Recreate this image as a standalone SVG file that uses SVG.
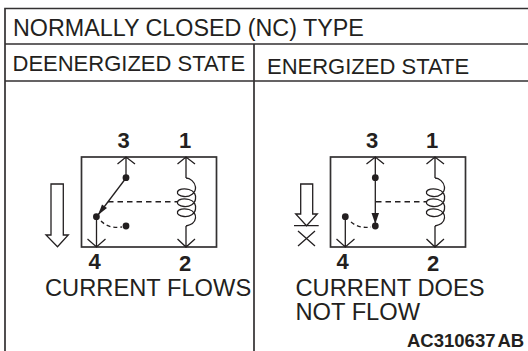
<svg xmlns="http://www.w3.org/2000/svg" width="528" height="351" viewBox="0 0 528 351">
<style>
text{font-family:"Liberation Sans",Arial,sans-serif;fill:#231f20}
.h{font-size:23.3px}
.s{font-size:22px}
.t{font-size:23.7px}
.n{font-size:22px;font-weight:bold}
.l{fill:none;stroke:#333132;stroke-width:1.7}
.f{fill:none;stroke:#231f20;stroke-width:1.3}
.d{fill:#231f20}
.dash{fill:none;stroke:#231f20;stroke-width:1.4;stroke-dasharray:5.500 4}
</style>
<defs>
<path id="coil" class="f" d="M186 178C190 178 195 182 195.500 187C196 193 190 197 184 196.500C179 196 177 194 177.500 192C178 189 184 188 189 189.500C194 191 196 195 195.500 199C195 204 190 207 184 206.500C179 206 177 204 177.500 202C178 199 184 198 189 199.500C194 201 196 205 195.500 209C195 214 190 217 184 216.500C179 216 177 214 177.500 212C178 209 184 208 189 209.500C194 211 196 215 195.500 218C195 222 191 225 186 226"/>
</defs>
<rect width="528" height="351" fill="#fff"/>
<g id="table">
<path class="l" d="M5 351V8.500H528M5 44H528M5 81H528M254 44V351"/>
<text class="h" x="13" y="35.500">NORMALLY CLOSED (NC) TYPE</text>
<text class="s" x="12.500" y="71">DEENERGIZED STATE</text>
<text class="s" x="267" y="73.500">ENERGIZED STATE</text>
</g>
<g id="deenergized">
<rect class="l" x="81.500" y="157" width="135" height="90"/>
<path class="f" d="M126 157V178M117.500 164L126 157L135 164M96.500 217V247M87.500 239L96.500 247L105.500 239M186 157V178M177.500 164L186 157L195 164M186 226V247M177.500 239L186 247L195 239"/>
<use href="#coil"/>
<circle class="d" cx="126" cy="177.700" r="3.400"/><circle class="d" cx="96.400" cy="216.700" r="3.400"/><circle class="d" cx="126" cy="226" r="3.400"/>
<path class="f" d="M126 178L96.500 217"/>
<path class="d" d="M102 204.500L107 208L98 215Z"/>
<path class="dash" d="M108 201.700H177"/>
<path class="f" stroke-dasharray="4 3" d="M101 221C107 227 114 228 122 227"/>
<path class="f" d="M51 184H63.300V235H68.300L57.500 246.700L46 235H51Z"/>
<text class="n" x="117.500" y="147.500">3</text><text class="n" x="179" y="147.500">1</text><text class="n" x="88.500" y="269">4</text><text class="n" x="179" y="271">2</text>
<text class="t" x="45" y="296">CURRENT FLOWS</text>
</g>
<g id="energized">
<rect class="l" x="330.500" y="157" width="135" height="90"/>
<path class="f" d="M375.300 157V226M366.500 164L375.300 157L384 164M345.300 217V247M336.500 239L345.300 247L354.500 239M435 157V178M426.500 164L435 157L444 164M435 226V247M426.500 239L435 247L444 239"/>
<use href="#coil" x="249"/>
<circle class="d" cx="375.300" cy="177.700" r="3.400"/><circle class="d" cx="345.300" cy="216.700" r="3.400"/><circle class="d" cx="375.300" cy="226" r="3.400"/>
<path class="d" d="M371.500 213H379L375.300 224Z"/>
<path class="dash" d="M376 201.700H426.700"/>
<path class="f" stroke-dasharray="4 3" d="M351 222C357 227 363 228 371 227"/>
<path class="f" d="M300.700 184H312.700V214H317.300L306.500 225.700L295.700 214H300.700Z"/>
<path class="f" d="M294 225.700H318.700M298 231L315 246M315 231L298 246"/>
<text class="n" x="366" y="147.500">3</text><text class="n" x="426" y="147.500">1</text><text class="n" x="336.500" y="269">4</text><text class="n" x="427" y="271">2</text>
<text class="t" x="295.500" y="296">CURRENT DOES</text>
<text class="t" x="295.500" y="319.500">NOT FLOW</text>
<text x="407" y="347" style="font-size:18.500px;font-weight:bold;word-spacing:-2.500px">AC310637 AB</text>
</g>
</svg>
